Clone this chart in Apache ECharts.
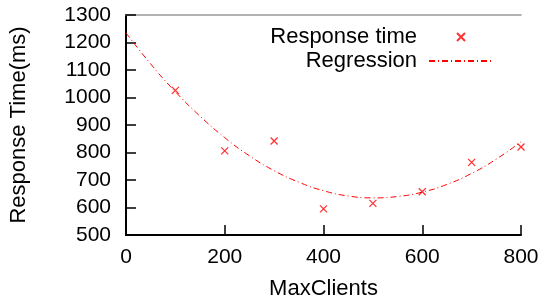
<!DOCTYPE html>
<html>
<head>
<meta charset="utf-8">
<script src="https://cdn.jsdelivr.net/npm/echarts@6/dist/echarts.min.js"></script>
<style>
  html, body { margin: 0; padding: 0; background: #fff; }
  #main { width: 544px; height: 305px; }
</style>
</head>
<body>
<div id="main"></div>
<script>
// measured points
var clients = [100, 200, 300, 400, 500, 600, 700, 800];
var respTime = [1026, 806, 842, 595, 615, 657, 764, 820];
// regression curve
var regX = [0, 50, 100, 150, 200, 250, 300, 350, 400, 450, 500, 550, 600, 650, 700, 750, 800];
var regY = [1235, 1122, 1021, 932, 854, 788, 734, 692, 661, 642, 635, 640, 656, 684, 724, 776, 839];

var font = 'Liberation Sans, Arial, Helvetica, sans-serif';
var cross = 'path://M0,0L8,8M8,0L0,8';

var chart = echarts.init(document.getElementById('main'));

var pts = [];
for (var i = 0; i < clients.length; i++) pts.push([clients[i], respTime[i]]);
var reg = [];
for (var j = 0; j < regX.length; j++) reg.push([regX[j], regY[j]]);

function plain(v) { return String(v); }

chart.setOption({
  animation: false,
  textStyle: { fontFamily: font },
  grid: { left: 125, right: 23, top: 15, bottom: 66, show: false },
  legend: [
    {
      data: [{ name: 'Response time', icon: cross }],
      orient: 'vertical', align: 'right',
      right: 78, top: 26, padding: 0,
      itemWidth: 8, itemHeight: 8,
      textStyle: { fontSize: 22, color: '#000', padding: [0, 35, 0, 0] },
      selectedMode: false
    },
    {
      data: ['Regression'],
      orient: 'vertical', align: 'right',
      right: 51, top: 50, padding: 0,
      itemWidth: 63, itemHeight: 14,
      itemStyle: { opacity: 0 },
      textStyle: { fontSize: 22, color: '#000', padding: [0, 7, 0, 0] },
      selectedMode: false
    }
  ],
  xAxis: [
    {
      type: 'value', min: 0, max: 800, interval: 200,
      name: 'MaxClients', nameLocation: 'middle', nameGap: 43,
      nameTextStyle: { fontSize: 22, color: '#000' },
      axisLine: { lineStyle: { color: '#000', width: 2 } },
      axisTick: { inside: true, length: 10, lineStyle: { color: '#000', width: 1.5 } },
      axisLabel: { fontSize: 21, color: '#000', margin: 12, formatter: plain },
      splitLine: { show: false }
    },
    {
      type: 'value', min: 0, max: 800, position: 'top',
      axisLine: { lineStyle: { color: '#999', width: 1.5 } },
      axisTick: { show: false }, axisLabel: { show: false }, splitLine: { show: false }
    }
  ],
  yAxis: [
    {
      type: 'value', min: 500, max: 1300, interval: 100,
      name: 'Response Time(ms)', nameLocation: 'middle', nameGap: 96,
      nameTextStyle: { fontSize: 22, color: '#000' },
      axisLine: { show: true, lineStyle: { color: '#000', width: 2 } },
      axisTick: { show: true, inside: true, length: 10, lineStyle: { color: '#000', width: 1.5 } },
      axisLabel: { fontSize: 21, color: '#000', margin: 15, formatter: plain },
      splitLine: { show: false }
    },
    {
      type: 'value', min: 500, max: 1300, position: 'right',
      axisLine: { show: true, lineStyle: { color: '#000', width: 2 } },
      axisTick: { show: false }, axisLabel: { show: false }, splitLine: { show: false }
    }
  ],
  series: [
    {
      name: 'Response time',
      type: 'scatter',
      symbol: cross,
      symbolSize: 7,
      itemStyle: { color: 'transparent', borderColor: '#ff0000', borderWidth: 1.3 },
      data: pts,
      z: 3
    },
    {
      name: 'Regression',
      type: 'line',
      smooth: true,
      symbol: 'none',
      lineStyle: { color: '#ff0000', width: 1, type: [6, 3, 1, 3] },
      itemStyle: { color: '#ff0000' },
      data: reg,
      z: 2
    }
  ]
});
</script>
</body>
</html>
